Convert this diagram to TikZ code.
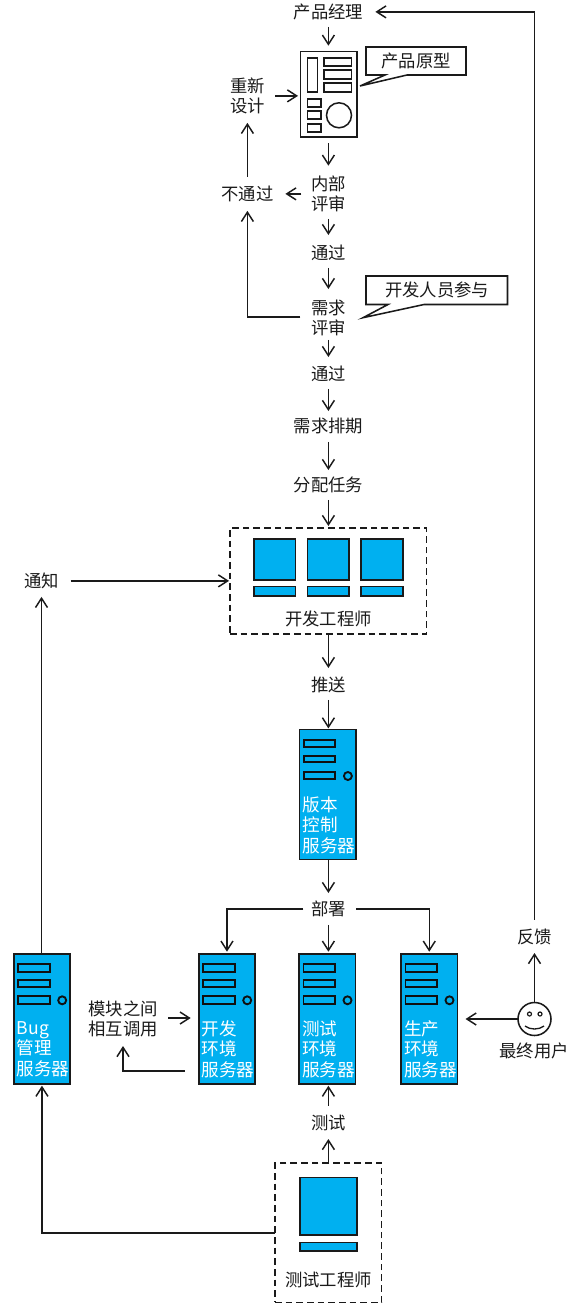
\documentclass[tikz,border=0pt]{standalone}
\usepackage{fontspec}
\setmainfont{Noto Sans CJK SC}
\usetikzlibrary{arrows.meta}
\definecolor{srvblue}{HTML}{00B0F0}
\definecolor{ink}{HTML}{1A1A1A}
\tikzset{
  label text/.style={inner sep=0pt,align=center,text=ink,font=\fontsize{13}{15}\selectfont,yshift=0.1pt},
  server text/.style={inner sep=0pt,align=left,anchor=west,text=white,font=\fontsize{13.2}{15.4}\selectfont},
  arr/.style={draw=ink,line width=1.15pt,-{Straight Barb[length=7pt,width=9pt,line width=1.1pt]}},
  gap/.style 2 args={shorten <=#1*0.75pt,shorten >=#2*0.75pt},
  outline/.style={draw=ink,line width=1.15pt},
  blue part/.style={draw=ink,line width=1.15pt,fill=srvblue},
  server part/.style={draw=ink!60!black,line width=1.4pt,fill=srvblue},
  server body/.style={draw=ink,line width=1.2pt,fill=srvblue,inner sep=0pt,outer sep=0pt,anchor=north west,minimum width=42.4pt,minimum height=97.5pt},
  dash box/.style={draw=ink,line width=1.15pt,dash pattern=on 5pt off 3pt,inner sep=0pt,outer sep=0pt,anchor=north west},
  plain box/.style={draw=ink,line width=1.15pt,fill=white,inner sep=0pt,outer sep=0pt,anchor=north west},
  callout/.style={draw=ink,line width=1.15pt,fill=white}
}
\newcommand{\srvbox}[4]{%
  \node[server body] (#1) at (#2,#3) {};
  \begin{scope}[shift={(#2,#3)}]
    \path[server part] (4.5,10.5) rectangle (36,18);
    \path[server part] (4.5,26.5) rectangle (36,33);
    \path[server part] (4.5,42.5) rectangle (36,50);
    \path[server part] (48.5,46.6) circle (4);
  \end{scope}
  \node[server text] (#1txt) at ([xshift=2.8*0.75pt,yshift=-95.5*0.75pt]#1.north west) {#4};
}
\begin{document}
\begin{tikzpicture}[x=0.75pt,y=-0.75pt]
\path[use as bounding box,fill=white] (0,0) rectangle (572,1314);

% top flow text
\node[label text] (pm) at (328.4,12) {产品经理};
\node[plain box,minimum width=42.4pt,minimum height=64.1pt] (proto) at (300.5,51.7) {};
\path[outline] (307.5,58) rectangle (317.5,92);
\path[outline] (324,58) rectangle (351.5,66);
\path[outline] (324,70) rectangle (351.5,79);
\path[outline] (324,83) rectangle (351.5,92);
\path[outline] (307.5,99) rectangle (321,107);
\path[outline] (307.5,111) rectangle (321,119);
\path[outline] (307.5,124) rectangle (321,132);
\path[outline] (339,115.3) circle (12.5);

\path[callout] (366,47) -- (466,47) -- (466,75) -- (407,75) -- (360,86) -- (385,75) -- (366,75) -- cycle;
\node[label text] (protonote) at (416,61) {产品原型};
\path[callout] (366,276) -- (507.5,276) -- (507.5,304.5) -- (424,304.5) -- (363,317.7) -- (388,304.5) -- (366,304.5) -- cycle;
\node[label text] (devnote) at (437,290) {开发人员参与};

\node[label text] (redesign) at (247.4,96) {重新\\设计};
\node[label text] (fail) at (247.4,194) {不通过};
\node[label text] (inner) at (328.4,194) {内部\\评审};
\node[label text] (pass1) at (328.4,253) {通过};
\node[label text] (req) at (328.4,318) {需求\\评审};
\node[label text] (pass2) at (328.4,374) {通过};
\node[label text] (sched) at (328.4,426) {需求排期};
\node[label text] (assign) at (328.4,485) {分配任务};

% developers
\node[dash box,minimum width=147.5pt,minimum height=79.5pt] (devs) at (230,528) {};
\path[blue part] (254,539) rectangle (295.5,580);
\path[blue part] (307.5,539) rectangle (349,580);
\path[blue part] (361,539) rectangle (403,580);
\path[blue part] (254,586.5) rectangle (295.5,596);
\path[blue part] (307.5,586.5) rectangle (349,596);
\path[blue part] (361,586.5) rectangle (403,596);
\node[label text] (devlabel) at (328.4,619) {开发工程师};

\node[label text] (notify) at (41.5,581) {通知};
\node[label text] (push) at (328.4,685) {推送};
\srvbox{vcs}{299.4}{729.4}{版本\\控制\\服务器}
\node[label text] (deploy) at (328.4,909) {部署};

\srvbox{bug}{13.7}{953.7}{Bug\\管理\\服务器}
\srvbox{dev}{198.7}{953.7}{开发\\环境\\服务器}
\srvbox{test}{299}{953.7}{测试\\环境\\服务器}
\srvbox{prod}{401}{953.7}{生产\\环境\\服务器}

\node[label text] (modules) at (123,1019) {模块之间\\相互调用};
\node[label text] (testing) at (328.4,1123) {测试};

% testers
\node[dash box,minimum width=80pt,minimum height=104.5pt] (testers) at (275,1163) {};
\path[blue part] (300,1177.5) rectangle (357,1235);
\path[blue part] (300,1242.5) rectangle (357,1251);
\node[label text] (testlabel) at (328.4,1280) {测试工程师};

% end user
\node[circle,draw=ink,line width=1.15pt,fill=white,inner sep=0pt,outer sep=0pt,minimum size=24.75pt] (user) at (534.5,1019) {};
\path[outline,line width=0.9pt] (529.5,1014) circle (2);
\path[outline,line width=0.9pt] (540,1014) circle (2);
\path[outline,line width=1pt] (525,1026) .. controls (530,1030) and (539,1030) .. (544,1026);
\node[label text] (userlabel) at (534,1051) {最终用户};
\node[label text] (feedback) at (534.5,937) {反馈};

% connectors
\draw[arr,gap={15}{6}] (pm.center) -- (pm.center |- proto.north);
\draw[arr,gap={6}{0}] (pm.center |- proto.south) -- (inner.center |- 0,165.7);
\draw[arr,gap={25}{0}] (inner.center) -- (pass1.center |- 0,235);
\draw[arr,gap={15}{0}] (pass1.center) -- (req.center |- 0,289);
\draw[arr,gap={22}{0}] (req.center) -- (pass2.center |- 0,357);
\draw[arr,gap={15}{0}] (pass2.center) -- (sched.center |- 0,411);
\draw[arr,gap={16}{0}] (sched.center) -- (assign.center |- 0,470);
\draw[arr,gap={15}{2}] (assign.center) -- (assign.center |- devs.north);
\draw[arr,gap={0}{0}] (push.center |- devs.south) -- (push.center |- 0,668);
\draw[arr,gap={15}{1}] (push.center) -- (push.center |- vcs.north);
\draw[arr,gap={0}{0}] (deploy.center |- vcs.south) -- (deploy.center |- 0,893);
\draw[arr,gap={16}{2}] (deploy.center) -- (deploy.center |- test.north);
\draw[arr,gap={25}{2}] (deploy.center) -| (dev.north);
\draw[arr,gap={28}{2}] (deploy.center) -| (prod.north);
\draw[arr,gap={27}{38}] (inner.center) -- (fail.center);
\draw[arr,gap={17}{27}] (fail.center) -- (redesign.center);
\draw[arr,gap={28}{2.5}] (redesign.center) -- (proto.west |- redesign.center);
\draw[arr,gap={28}{17}] (req.center |- 0,317) -| (fail.center);
\draw[arr,gap={17}{47}] (feedback.center) |- (pm.center);
\draw[arr,gap={0}{16}] (notify.center |- bug.north) -- (notify.center);
\draw[arr,gap={29}{1}] (notify.center) -- (devs.west |- notify.center);
\draw[arr,gap={45}{8}] (modules.center |- 0,1018) -- (dev.west |- 0,1018);
\draw[arr,gap={14}{0}] (dev.west |- 0,1071) -| (modules.center |- 0,1046);
\draw[arr,gap={0}{0}] (testing.center |- testers.north) -- (testing.center |- 0,1139);
\draw[arr,gap={17}{2}] (testing.center) -- (testing.center |- test.south);
\draw[arr,gap={0}{2}] (testers.west |- 0,1233) -| (bug.south);
\draw[arr,gap={0}{8}] (user.west) -- (prod.east |- user.west);
\draw[arr,gap={0}{0}] (user.north) -- (feedback.center |- 0,953);
\end{tikzpicture}
\end{document}
